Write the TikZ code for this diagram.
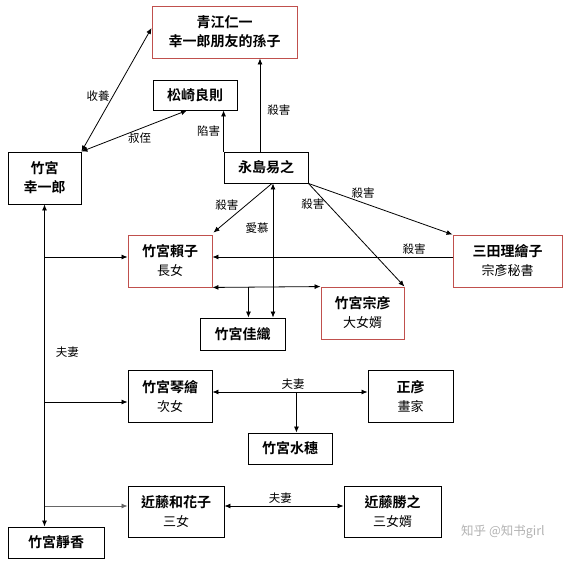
\documentclass[tikz,border=0pt]{standalone}
\usepackage{fontspec}
\setmainfont{Noto Sans CJK TC}[BoldFont={Noto Sans CJK TC Bold}]
\usetikzlibrary{arrows.meta,calc}
\definecolor{boxred}{RGB}{192,80,77}
\tikzset{
  box/.style={draw=black,line width=0.9pt,fill=white,inner sep=0pt,align=center,font=\fontsize{14}{19}\selectfont},
  redbox/.style={box,draw=boxred},
  lab/.style={font=\fontsize{11.5}{13}\selectfont,inner sep=1pt},
  conn/.style={line width=0.8pt,-{Latex[length=6pt,width=5pt]}},
  conn2/.style={line width=0.8pt,{Latex[length=6pt,width=5pt]}-{Latex[length=6pt,width=5pt]}},
  plain/.style={line width=0.8pt}
}
\begin{document}
\begin{tikzpicture}[x=1pt,y=-1pt]
\useasboundingbox (0,0) rectangle (571,562);
\node[redbox,minimum width=145pt,minimum height=52pt] (qj) at (224.5,32) {\bfseries 青江仁一\\\bfseries 幸一郎朋友的孫子};
\node[box,minimum width=84pt,minimum height=30pt] (sq) at (195,95) {\bfseries 松崎良則};
\node[box,minimum width=73pt,minimum height=52pt] (xy) at (44.5,178) {\bfseries 竹宮\\\bfseries 幸一郎};
\node[box,minimum width=84pt,minimum height=31pt] (yd) at (266,167.5) {\bfseries 永島易之};
\node[redbox,minimum width=84pt,minimum height=52pt] (lz) at (170,261) {\bfseries 竹宮賴子\\{\fontsize{13}{16}\selectfont 長女}};
\node[box,minimum width=85pt,minimum height=32pt] (jz) at (242.5,334) {\bfseries 竹宮佳織};
\node[redbox,minimum width=83pt,minimum height=52pt] (zy) at (362.5,313) {\bfseries 竹宮宗彦\\{\fontsize{13}{16}\selectfont 大女婿}};
\node[redbox,minimum width=109pt,minimum height=52pt] (st) at (507.5,261) {\bfseries 三田理繪子\\{\fontsize{13}{16}\selectfont 宗彥秘書}};
\node[box,minimum width=84pt,minimum height=52pt] (qh) at (170,396) {\bfseries 竹宮琴繪\\{\fontsize{13}{16}\selectfont 次女}};
\node[box,minimum width=85pt,minimum height=52pt] (zh) at (410.5,396) {\bfseries 正彦\\{\fontsize{13}{16}\selectfont 畫家}};
\node[box,minimum width=84pt,minimum height=31pt] (ms) at (290,448.5) {\bfseries 竹宮水穗};
\node[box,minimum width=96pt,minimum height=51pt] (hh) at (176,511.5) {\bfseries 近藤和花子\\{\fontsize{13}{16}\selectfont 三女}};
\node[box,minimum width=97pt,minimum height=51pt] (sz) at (392.5,511.5) {\bfseries 近藤勝之\\{\fontsize{13}{16}\selectfont 三女婿}};
\node[box,minimum width=96pt,minimum height=31pt] (jx) at (56,542.5) {\bfseries 竹宮靜香};
% helper coordinates
\coordinate (lzw) at ([yshift=4pt]lz.west);
\coordinate (qhw) at ([yshift=-6pt]qh.west);
\coordinate (hhw) at ([yshift=5.5pt]hh.west);
\coordinate (qhe) at ([yshift=4pt]qh.east);
\coordinate (hhe) at ([yshift=5.5pt]hh.east);
% connectors
\draw[conn2] (xy.north east) -- ([yshift=4pt]qj.west) node[lab,pos=0.45,left=2pt] {收養};
\draw[conn2] (xy.north east) -- ([xshift=-8pt]sq.south) node[lab,pos=0.55,below=3pt] {叔侄};
\draw[conn] (yd.north west) -- (yd.north west |- sq.south) node[lab,midway,left=2pt] {陷害};
\draw[conn] ([xshift=-6pt]yd.north) -- ([xshift=-6pt]yd.north |- qj.south) node[lab,pos=0.45,right=6pt] {殺害};
\draw[conn] ([xshift=6pt]yd.south) -- ([xshift=1pt,yshift=2pt]lz.north east) node[lab,pos=0.45,left=6pt] {殺害};
\draw[conn2] ([xshift=7pt]yd.south) -- ([xshift=7pt]yd.south |- jz.north) node[lab,pos=0.33,left=3pt] {愛慕};
\draw[conn] (yd.south east) -- (zy.north east) node[lab,pos=0.2,left=2pt] {殺害};
\draw[conn] (yd.south east) -- (st.north west) node[lab,pos=0.38,above=3pt] {殺害};
\draw[conn] ([yshift=4pt]st.west) -- (lzw -| lz.east) node[lab,pos=0.16,above=1pt] {殺害};
\draw[conn2] (lz.south east) -- (zy.north west);
\coordinate (m1) at ($(lz.south east)+(36,0)$);
\draw[conn] (m1) -- (m1 |- jz.north);
\draw[conn2] (xy.south) -- (xy.south |- jx.north) node[lab,pos=0.46,right=10pt] {夫妻};
\draw[conn] (xy.south |- lzw) -- (lzw);
\draw[conn] (xy.south |- qhw) -- (qhw);
\draw[conn,draw=black!60] (xy.south |- hhw) -- (hhw);
\draw[conn2] (qhe) -- (qhe -| zh.west) node[lab,pos=0.52,above=1pt] {夫妻};
\coordinate (m2) at ($(qhe)+(84,0)$);
\draw[conn] (m2) -- (m2 |- ms.north);
\draw[conn2] (hhe) -- (hhe -| sz.west) node[lab,pos=0.47,above=1pt] {夫妻};
\node[font=\fontsize{12.5}{14}\selectfont,text=black!30] (wm) at (503,532) {知乎 @知书girl};
\end{tikzpicture}
\end{document}
